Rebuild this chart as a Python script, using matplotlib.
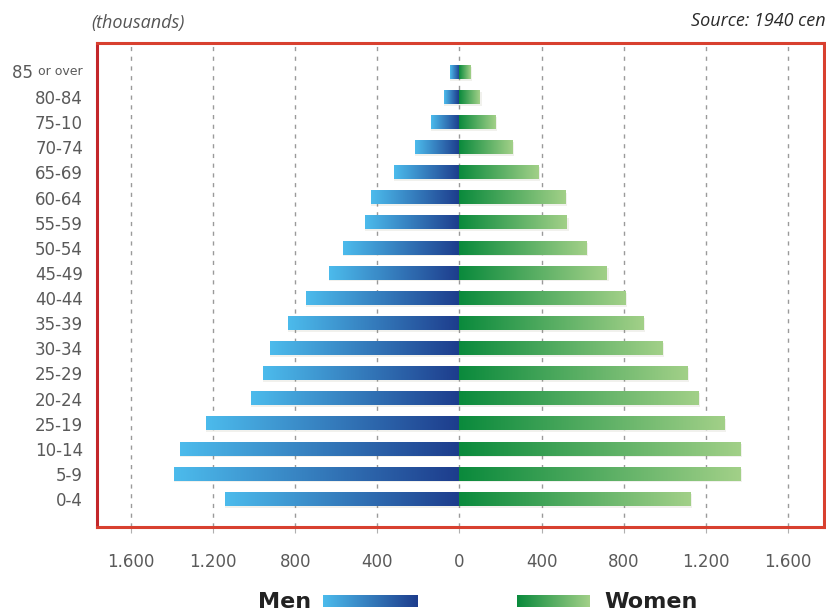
import matplotlib.pyplot as plt
import matplotlib.colors as mcolors
import numpy as np

# Age groups, bottom to top (labels as printed)
ages = ["0-4", "5-9", "10-14", "25-19", "20-24", "25-29", "30-34", "35-39",
        "40-44", "45-49", "50-54", "55-59", "60-64", "65-69", "70-74",
        "75-10", "80-84", "85 or over"]
# Population in thousands
men = [1140, 1390, 1361, 1234, 1015, 956, 922, 834, 746, 633, 569, 462,
       431, 320, 218, 141, 73, 46]
women = [1127, 1371, 1371, 1293, 1166, 1112, 990, 898, 810, 720, 620, 525,
         517, 385, 259, 176, 102, 56]
ticks = [-1600, -1200, -800, -400, 0, 400, 800, 1200, 1600]
tick_labels = ["1.600", "1.200", "800", "400", "0", "400", "800", "1.200", "1.600"]

MEN_LIGHT, MEN_DARK = "#4cbbec", "#1d3c8c"
WOMEN_DARK, WOMEN_LIGHT = "#0a8a3c", "#a2d088"
BAR_H = 0.54


def gradient(c0, c1, n=256):
    a = np.array(mcolors.to_rgb(c0))
    b = np.array(mcolors.to_rgb(c1))
    t = np.linspace(0, 1, n)[:, None]
    return (a + (b - a) * t)[None, :, :]


fig = plt.figure(figsize=(8.26, 6.14), dpi=100)
ax = fig.add_axes([0.1174, 0.1417, 0.8802, 0.7883])

y = np.arange(len(ages))
g_men = gradient(MEN_LIGHT, MEN_DARK)
g_women = gradient(WOMEN_DARK, WOMEN_LIGHT)

for yi, m, w in zip(y, men, women):
    # faint drop shadow
    ax.barh(yi - 0.07, -m, height=BAR_H, color="#7a7a50", alpha=0.10,
            left=0, zorder=1, linewidth=0)
    ax.barh(yi - 0.07, w + 6, height=BAR_H, color="#7a7a50", alpha=0.10,
            zorder=1, linewidth=0)
    ax.imshow(g_men, extent=(-m, 0, yi - BAR_H / 2, yi + BAR_H / 2),
              aspect="auto", interpolation="bilinear", zorder=2)
    ax.imshow(g_women, extent=(0, w, yi - BAR_H / 2, yi + BAR_H / 2),
              aspect="auto", interpolation="bilinear", zorder=2)

ax.set_xlim(-1765, 1775)
ax.set_ylim(-1.115, 18.155)

for t in ticks:
    ax.axvline(t, color="#9a9a9a", linestyle=(0, (3, 4)), linewidth=1, zorder=0)

ax.set_xticks(ticks)
ax.set_xticklabels(tick_labels, fontsize=12, color="#5a5a5a")
ax.tick_params(axis="x", length=4, color="#b0b0b0", pad=15)

ax.set_yticks(y)
labels = list(ages)
labels[-1] = ""
ax.set_yticklabels(labels, fontsize=12, color="#5a5a5a")
ax.tick_params(axis="y", length=0, pad=10)

# "85 or over" with a smaller suffix
suffix = ax.annotate("or over", xy=(0, y[-1]), xycoords=("axes fraction", "data"),
                     xytext=(-10, 0), textcoords="offset points",
                     ha="right", va="center", fontsize=9, color="#5a5a5a")
ax.annotate("85 ", xy=(0, 0.45), xycoords=suffix, ha="right", va="center",
            fontsize=12, color="#5a5a5a")

for s in ax.spines.values():
    s.set_color("#d8402f")
    s.set_linewidth(2.2)
ax.spines["left"].set_color("#c3262a")

fig.text(0.110, 0.963, "(thousands)", fontsize=13, style="italic",
         family=["Open Sans", "DejaVu Sans"], color="#555555", va="center")
fig.text(0.9995, 0.966, "Source: 1940 cen", fontsize=13, style="italic",
         family=["Open Sans", "DejaVu Sans"], color="#2a2a2a", va="center",
         ha="right")

# legend
fig.text(0.377, 0.019, "Men", fontsize=16, color="#222222", ha="right",
         va="center", fontweight="semibold")
fig.text(0.732, 0.019, "Women", fontsize=16, color="#222222", ha="left",
         va="center", fontweight="semibold")
lax = fig.add_axes([0.391, 0.0114, 0.115, 0.0195])
lax.imshow(g_men, aspect="auto", interpolation="bilinear")
lax.axis("off")
lax2 = fig.add_axes([0.626, 0.0114, 0.088, 0.0195])
lax2.imshow(g_women, aspect="auto", interpolation="bilinear")
lax2.axis("off")

fig.savefig("out.png", dpi=100)
